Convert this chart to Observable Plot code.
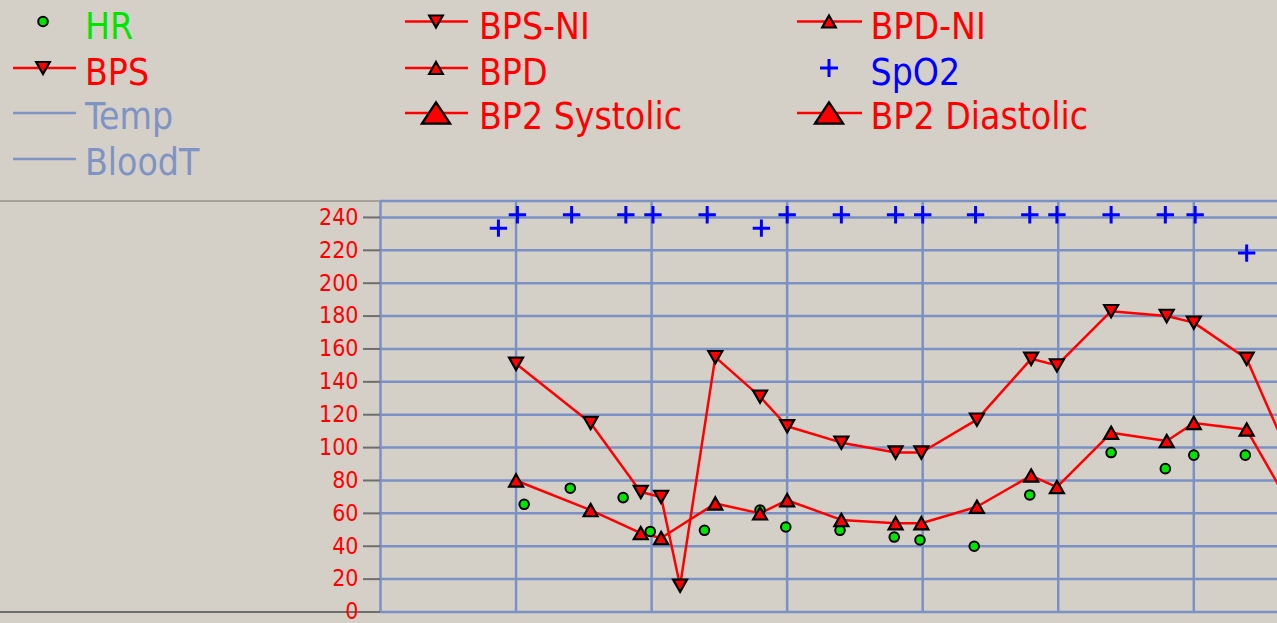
<!DOCTYPE html>
<html><head><meta charset="utf-8">
<script src="https://cdn.jsdelivr.net/npm/d3@7"></script>
<script src="https://cdn.jsdelivr.net/npm/@observablehq/plot@0.6"></script>
<style>
html,body{margin:0;padding:0;background:#d4d0c8;width:1277px;height:623px;overflow:hidden;}
#wrap{position:relative;width:1277px;height:623px;}
#legend{position:absolute;left:0;top:0;}
#sep{position:absolute;left:0;top:199.5px;width:380px;height:2px;background:#a6a29a;}
#base{position:absolute;left:0;top:611px;width:380px;height:2px;background:#6e6e6e;}
#chart{position:absolute;left:0;top:200px;}
</style></head><body>
<div id="wrap"><div id="sep"></div><div id="base"></div><div id="legend"></div><div id="chart"></div></div>
<script>
// ---------- data (x in hours from the left edge of the frame) ----------
const yTicks = [0,20,40,60,80,100,120,140,160,180,200,220,240];
const xGrid  = [0,1,2,3,4,5,6];

const bpsT = [1.0, 1.55, 1.92, 2.07, 2.21, 2.47, 2.8, 3.0, 3.4, 3.8, 3.99, 4.4, 4.8, 4.99, 5.39, 5.8, 6.0, 6.39, 6.8];
const bpsV = [151, 115, 73, 70, 16, 155, 131, 113, 103, 97, 97, 117, 154, 150, 183, 180, 176, 154, 77];

const bpdT = [1.0, 1.55, 1.92, 2.07, 2.47, 2.8, 3.0, 3.4, 3.8, 3.99, 4.4, 4.8, 4.99, 5.39, 5.8, 6.0, 6.39, 6.8];
const bpdV = [80, 62, 48, 45, 66, 60, 68, 56, 54, 54, 64, 83, 76, 109, 104, 115, 111, 52];

const hrT = [1.06, 1.4, 1.79, 1.99, 2.39, 2.8, 2.99, 3.39, 3.79, 3.98, 4.38, 4.79, 5.39, 5.79, 6.0, 6.38];
const hrV = [65.5, 75.3, 69.6, 49, 49.7, 62, 51.7, 49.7, 45.6, 43.8, 40, 71.2, 97, 87.2, 95.4, 95.4];

const spoT = [0.87, 1.01, 1.41, 1.81, 2.01, 2.41, 2.81, 3.0, 3.4, 3.8, 4.0, 4.39, 4.79, 4.99, 5.39, 5.79, 6.01, 6.39];
const spoV = [233.5, 241.6, 241.6, 241.6, 241.6, 241.6, 233.5, 241.6, 241.6, 241.6, 241.6, 241.6, 241.6, 241.6, 241.6, 241.6, 241.6, 218.3];

const legendLabels = ["HR","BPS","Temp","BloodT","BPS-NI","BPD","BP2 Systolic","BPD-NI","SpO2","BP2 Diastolic"];

// ---------- styling ----------
const RED = "#ff0000", GRID = "#7b91c5", GREEN = "#00e600", BLUE = "#0000ff", TEMPC = "#7f93c4";
const FONT = "'DejaVu Sans Condensed','DejaVu Sans',sans-serif";

const rows = (T, V) => T.map((t, i) => ({t, v: V[i]}));
const bps = rows(bpsT, bpsV), bpd = rows(bpdT, bpdV), hr = rows(hrT, hrV), spo = rows(spoT, spoV);

const makeTri = (up, k) => ({draw(c, size){ const r = Math.sqrt(size/Math.PI), h = r*k, s = up ? 1 : -1;
  c.moveTo(0,-h*s); c.lineTo(r,h*s); c.lineTo(-r,h*s); c.closePath(); }});
const triUp = makeTri(true, 0.88), triDown = makeTri(false, 0.88), bigUp = makeTri(true, 0.76);
const plus = {draw(c, size){ const r = Math.sqrt(size/Math.PI);
  c.moveTo(-r,0); c.lineTo(r,0); c.moveTo(0,-r); c.lineTo(0,r); }};

const chart = Plot.plot({
  width: 1277, height: 423,
  marginLeft: 380, marginRight: 0, marginTop: 0.5, marginBottom: 11.5,
  style: {background: "transparent", fontFamily: FONT, fontStretch: "condensed", fontSize: "22.5px", overflow: "visible"},
  x: {domain: [0, 897/135.55], axis: null},
  y: {domain: [0, 250], axis: null},
  marks: [
    Plot.ruleY(yTicks, {stroke: GRID, strokeWidth: 2.5}),
    Plot.ruleY([250], {stroke: GRID, strokeWidth: 2.5}),
    Plot.ruleX(xGrid, {stroke: GRID, strokeWidth: 2.5}),
    Plot.axisY(yTicks, {tickSize: 17, tickPadding: 5, stroke: "#6e6e6e", strokeWidth: 2, fill: RED, label: null, fontSize: 23}),
    Plot.line(bps, {x: "t", y: "v", stroke: RED, strokeWidth: 2.5, clip: true}),
    Plot.line(bpd, {x: "t", y: "v", stroke: RED, strokeWidth: 2.5, clip: true}),
    Plot.dot(hr, {x: "t", y: "v", r: 4.8, fill: GREEN, stroke: "#000", strokeWidth: 2, clip: true}),
    Plot.dot(bps, {x: "t", y: "v", symbol: triDown, r: 7, fill: RED, stroke: "#000", strokeWidth: 2.2, clip: true}),
    Plot.dot(bpd, {x: "t", y: "v", symbol: triUp, r: 7, fill: RED, stroke: "#000", strokeWidth: 2.2, clip: true}),
    Plot.dot(spo, {x: "t", y: "v", symbol: plus, r: 8.7, fill: "none", stroke: BLUE, strokeWidth: 3, clip: true})
  ]
});
document.getElementById("chart").appendChild(chart);

// ---------- legend ----------
const legendSpec = [
  {col:0,row:0,color:GREEN,line:null,sym:"circle"},
  {col:0,row:1,color:RED,line:RED,sym:"down"},
  {col:0,row:2,color:TEMPC,line:TEMPC,sym:null},
  {col:0,row:3,color:TEMPC,line:TEMPC,sym:null},
  {col:1,row:0,color:RED,line:RED,sym:"down"},
  {col:1,row:1,color:RED,line:RED,sym:"up"},
  {col:1,row:2,color:RED,line:RED,sym:"bigup"},
  {col:2,row:0,color:RED,line:RED,sym:"up"},
  {col:2,row:1,color:BLUE,line:null,sym:"plus"},
  {col:2,row:2,color:RED,line:RED,sym:"bigup"}
];
const colSymX = [43, 436, 829], colLine = [[13,76],[405,468],[797,862]], colTextX = [85, 479, 870.5];
const rowSymY = [21.5, 68, 113, 159], rowBase = [39, 84.5, 128.5, 175];

const lsvg = d3.select("#legend").append("svg").attr("width", 1277).attr("height", 199)
  .style("font-family", FONT).style("font-stretch", "condensed");
legendSpec.forEach((s, i) => {
  const g = lsvg.append("g");
  const y = rowSymY[s.row], cx = colSymX[s.col];
  if (s.line) g.append("line").attr("x1", colLine[s.col][0]).attr("x2", colLine[s.col][1])
    .attr("y1", y).attr("y2", y).attr("stroke", s.line).attr("stroke-width", 2.4);
  const sym = (type, r) => d3.symbol(type, Math.PI*r*r)();
  const tr = `translate(${cx},${y})`;
  if (s.sym === "circle") g.append("circle").attr("cx", cx).attr("cy", y).attr("r", 4.8)
    .attr("fill", GREEN).attr("stroke", "#000").attr("stroke-width", 2);
  if (s.sym === "down") g.append("path").attr("d", sym(triDown, 6.8)).attr("transform", tr)
    .attr("fill", RED).attr("stroke", "#000").attr("stroke-width", 2.2);
  if (s.sym === "up") g.append("path").attr("d", sym(triUp, 6.8)).attr("transform", tr)
    .attr("fill", RED).attr("stroke", "#000").attr("stroke-width", 2.2);
  if (s.sym === "bigup") g.append("path").attr("d", sym(bigUp, 14)).attr("transform", tr)
    .attr("fill", RED).attr("stroke", "#000").attr("stroke-width", 2.4);
  if (s.sym === "plus") g.append("path").attr("d", sym(plus, 9)).attr("transform", tr)
    .attr("fill", "none").attr("stroke", BLUE).attr("stroke-width", 3);
  g.append("text").attr("x", colTextX[s.col]).attr("y", rowBase[s.row]).attr("fill", s.color)
    .attr("font-size", 37).text(legendLabels[i]);
});
</script>
</body></html>
